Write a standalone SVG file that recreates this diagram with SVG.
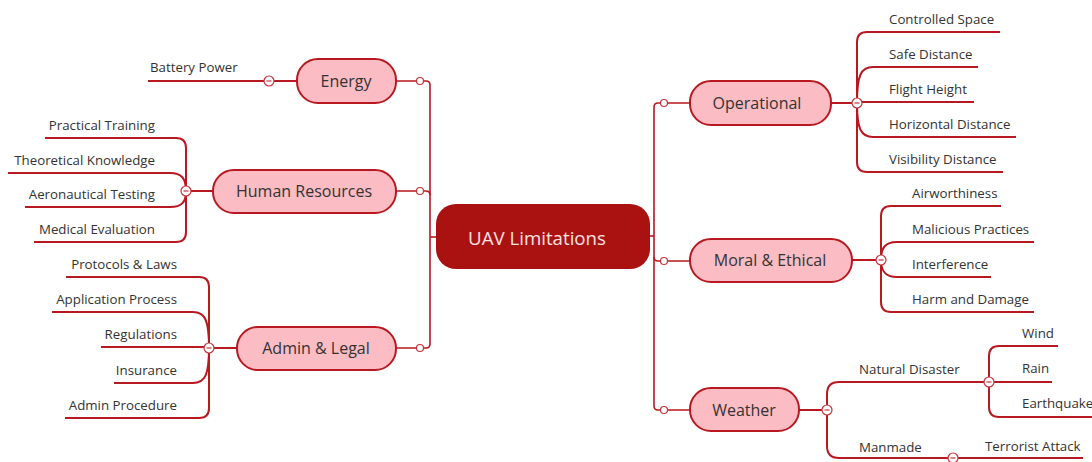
<svg xmlns="http://www.w3.org/2000/svg" width="1092" height="462" viewBox="0 0 1092 462">
<style>
.ln{fill:none;stroke:#B8181F;stroke-width:2}
.tr{fill:none;stroke:#B8181F;stroke-width:1.6}
.nd{fill:#FBBCC3;stroke:#B8181F;stroke-width:2}
.nt{font-family:"Open Sans","Noto Sans",sans-serif;font-size:16px;fill:#333;text-anchor:middle;dominant-baseline:central}
.lf{font-family:"Open Sans","Noto Sans",sans-serif;font-size:13.3px;fill:#333}
.r{text-anchor:end}
.dot{fill:#fff;stroke:#C4343A;stroke-width:1.2}
.col{fill:#fff;stroke:#C4343A;stroke-width:1.2}
.mn{stroke:#C4343A;stroke-width:1.2}
</style>
<g id="connectors">
<path class="tr" d="M396,81 H426 Q430,81 430,85 V237"/>
<path class="tr" d="M396,191 H426 Q430,191 430,195"/>
<path class="tr" d="M396,348 H426 Q430,348 430,344 V237"/>
<path class="tr" d="M430,237 H436"/>
<path class="tr" d="M650,236 H654"/>
<path class="tr" d="M690,103 H658 Q654,103 654,107 V236"/>
<path class="tr" d="M654,257 Q654,261 658,261 H690"/>
<path class="tr" d="M654,236 V406 Q654,410 658,410 H690"/>
<path class="ln" d="M297,81 H148"/>
<path class="ln" d="M213,191 H186"/>
<path class="ln" d="M186,191 V148 Q186,138 176,138 H45"/>
<path class="ln" d="M186,191 C186,179 182,173 170,173 H8"/>
<path class="ln" d="M186,191 C186,202 182,207 170,207 H25"/>
<path class="ln" d="M186,191 V232 Q186,242 176,242 H34"/>
<path class="ln" d="M237,348 H209"/>
<path class="ln" d="M209,348 V287 Q209,277 199,277 H66"/>
<path class="ln" d="M209,348 C209,320 205,312 193,312 H52"/>
<path class="ln" d="M209,347 H101"/>
<path class="ln" d="M209,348 C209,375 205,383 193,383 H114"/>
<path class="ln" d="M209,348 V408 Q209,418 199,418 H65"/>
<path class="ln" d="M831,103 H857"/>
<path class="ln" d="M857,103 V42 Q857,32 867,32 H1000"/>
<path class="ln" d="M857,103 C857,75 861,67 873,67 H978"/>
<path class="ln" d="M857,102 H974"/>
<path class="ln" d="M857,103 C857,129 861,137 873,137 H1016"/>
<path class="ln" d="M857,103 V162 Q857,172 867,172 H1003"/>
<path class="ln" d="M852,260 H881"/>
<path class="ln" d="M881,260 V216 Q881,206 891,206 H1001"/>
<path class="ln" d="M881,260 C881,248 885,242 897,242 H1034"/>
<path class="ln" d="M881,260 C881,271 885,277 897,277 H991"/>
<path class="ln" d="M881,260 V302 Q881,312 891,312 H1034"/>
<path class="ln" d="M799,410 H827"/>
<path class="ln" d="M827,410 V394 Q827,382 839,382 H989"/>
<path class="ln" d="M827,410 V446 Q827,458 839,458 H1083"/>
<path class="ln" d="M989,382 V356 Q989,346 999,346 H1058"/>
<path class="ln" d="M989,382 H1052"/>
<path class="ln" d="M989,382 V407 Q989,417 999,417 H1092"/>
<circle class="dot" cx="420" cy="81" r="3.5"/>
<circle class="dot" cx="420" cy="191" r="3.5"/>
<circle class="dot" cx="420" cy="348" r="3.5"/>
<circle class="dot" cx="664" cy="103" r="3.5"/>
<circle class="dot" cx="664" cy="261" r="3.5"/>
<circle class="dot" cx="664" cy="410" r="3.5"/>
<g id="collapsers">
<circle class="col" cx="269" cy="81" r="5"/><path class="mn" d="M266.5,81 H271.5"/>
<circle class="col" cx="186" cy="191" r="5"/><path class="mn" d="M183.5,191 H188.5"/>
<circle class="col" cx="209" cy="348" r="5"/><path class="mn" d="M206.5,348 H211.5"/>
<circle class="col" cx="857" cy="103" r="5"/><path class="mn" d="M854.5,103 H859.5"/>
<circle class="col" cx="881" cy="260" r="5"/><path class="mn" d="M878.5,260 H883.5"/>
<circle class="col" cx="827" cy="410" r="5"/><path class="mn" d="M824.5,410 H829.5"/>
<circle class="col" cx="989" cy="382" r="5"/><path class="mn" d="M986.5,382 H991.5"/>
<circle class="col" cx="953" cy="458" r="5"/><path class="mn" d="M950.5,458 H955.5"/>
</g>
</g>
<g id="center">
<rect x="436" y="204" width="214" height="65" rx="20" fill="#AA1212"/>
<text x="537" y="237" font-family="'Open Sans','Noto Sans',sans-serif" font-size="18.7" fill="#FBE2E2" text-anchor="middle" dominant-baseline="central">UAV Limitations</text>
</g>
<g id="energy">
<rect class="nd" x="297" y="59" width="99" height="44" rx="21"/>
<text class="nt" x="346" y="81">Energy</text>
<text class="lf" x="150" y="72">Battery Power</text>
</g>
<g id="human-resources">
<rect class="nd" x="213" y="170" width="183" height="43" rx="21"/>
<text class="nt" x="304" y="191">Human Resources</text>
<text class="lf r" x="155" y="130">Practical Training</text>
<text class="lf r" x="155" y="165">Theoretical Knowledge</text>
<text class="lf r" x="155" y="199">Aeronautical Testing</text>
<text class="lf r" x="155" y="234">Medical Evaluation</text>
</g>
<g id="admin-legal">
<rect class="nd" x="237" y="327" width="159" height="43" rx="21"/>
<text class="nt" x="316" y="348">Admin &amp; Legal</text>
<text class="lf r" x="177" y="269">Protocols &amp; Laws</text>
<text class="lf r" x="177" y="304">Application Process</text>
<text class="lf r" x="177" y="339">Regulations</text>
<text class="lf r" x="177" y="375">Insurance</text>
<text class="lf r" x="177" y="410">Admin Procedure</text>
</g>
<g id="operational">
<rect class="nd" x="690" y="81" width="141" height="44" rx="21"/>
<text class="nt" x="757" y="103">Operational</text>
<text class="lf" x="889" y="24">Controlled Space</text>
<text class="lf" x="889" y="59">Safe Distance</text>
<text class="lf" x="889" y="94">Flight Height</text>
<text class="lf" x="889" y="129">Horizontal Distance</text>
<text class="lf" x="889" y="164">Visibility Distance</text>
</g>
<g id="moral-ethical">
<rect class="nd" x="690" y="239" width="162" height="43" rx="21"/>
<text class="nt" x="770" y="260">Moral &amp; Ethical</text>
<text class="lf" x="912" y="198">Airworthiness</text>
<text class="lf" x="912" y="234">Malicious Practices</text>
<text class="lf" x="912" y="269">Interference</text>
<text class="lf" x="912" y="304">Harm and Damage</text>
</g>
<g id="weather">
<rect class="nd" x="690" y="388" width="109" height="43" rx="21"/>
<text class="nt" x="744" y="410">Weather</text>
<text class="lf" x="859" y="374">Natural Disaster</text>
<text class="lf" x="859" y="452">Manmade</text>
<text class="lf" x="1022" y="338">Wind</text>
<text class="lf" x="1022" y="373">Rain</text>
<text class="lf" x="1022" y="408">Earthquake</text>
<text class="lf" x="985" y="451">Terrorist Attack</text>
</g>
</svg>
